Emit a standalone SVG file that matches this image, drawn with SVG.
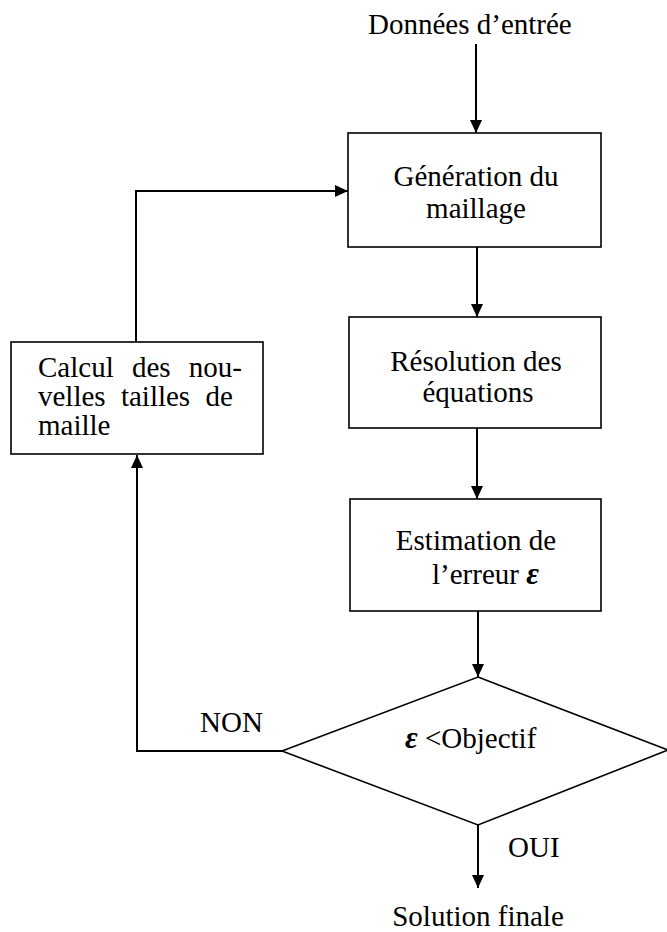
<svg xmlns="http://www.w3.org/2000/svg" width="667" height="932" viewBox="0 0 667 932">
<defs>
<style>
.box{fill:#fff;stroke:#000;stroke-width:1.6}
.t{font-family:"Liberation Serif","Times New Roman","DejaVu Serif",serif;font-size:29px;fill:#000}
.c{text-anchor:middle}
.eps{font-family:"Liberation Serif","Times New Roman","DejaVu Serif",serif;font-weight:bold;font-style:italic;font-size:31px}
.con{fill:none;stroke:#000;stroke-width:2}
</style>
<marker id="arr" markerUnits="userSpaceOnUse" markerWidth="13" markerHeight="12" refX="13" refY="6" orient="auto">
<path d="M0,0 L13,6 L0,12 z" fill="#000"/>
</marker>
</defs>
<rect width="667" height="932" fill="#fff"/>
<g id="connectors">
<line class="con" x1="476" y1="44" x2="476" y2="133" marker-end="url(#arr)"/>
<line class="con" x1="477" y1="247" x2="477" y2="317" marker-end="url(#arr)"/>
<line class="con" x1="477" y1="428" x2="477" y2="499" marker-end="url(#arr)"/>
<line class="con" x1="478" y1="611" x2="478" y2="677" marker-end="url(#arr)"/>
<line class="con" x1="478" y1="825" x2="478" y2="888" marker-end="url(#arr)"/>
<polyline class="con" points="282,751 137,751 137,455" marker-end="url(#arr)"/>
<polyline class="con" points="136,342 136,191 348,191" marker-end="url(#arr)"/>
</g>
<g id="input"><text class="t" x="368" y="34">Données d’entrée</text></g>
<g id="generation">
<rect class="box" x="348" y="133" width="253" height="114"/>
<text class="t c" x="476" y="186">Génération du</text>
<text class="t c" x="476" y="218">maillage</text>
</g>
<g id="resolution">
<rect class="box" x="349" y="317" width="252" height="111"/>
<text class="t c" x="476" y="371">Résolution des</text>
<text class="t c" x="478" y="402">équations</text>
</g>
<g id="estimation">
<rect class="box" x="350" y="499" width="251" height="112"/>
<text class="t c" x="476" y="550">Estimation de</text>
<text class="t" x="432" y="584">l’erreur <tspan class="eps">ε</tspan></text>
</g>
<g id="decision">
<polygon class="box" points="478,677 668,750 478,825 282,751"/>
<text class="t" x="405" y="748"><tspan class="eps">ε</tspan> &lt;Objectif</text>
</g>
<g id="recalc">
<rect class="box" x="11" y="342" width="252" height="112"/>
<text class="t" x="38" y="377" word-spacing="11">Calcul des nou-</text>
<text class="t" x="38" y="406" word-spacing="8">velles tailles de</text>
<text class="t" x="38" y="435">maille</text>
</g>
<g id="labels">
<text class="t" x="200" y="732">NON</text>
<text class="t" x="508" y="857">OUI</text>
</g>
<g id="output"><text class="t c" x="478" y="926">Solution finale</text></g>
</svg>
